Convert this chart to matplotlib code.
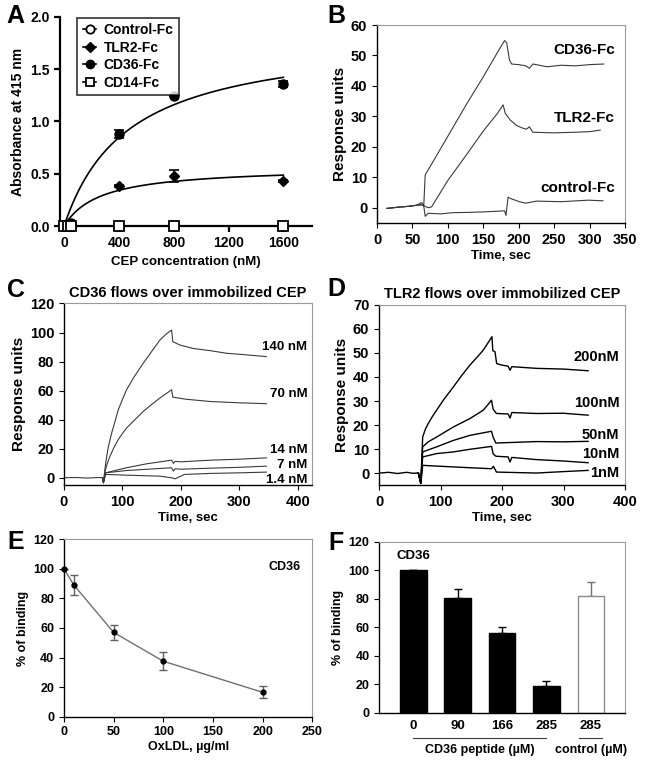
import matplotlib
matplotlib.use("Agg")
import matplotlib.pyplot as plt
import matplotlib.transforms as mtransforms
from matplotlib.lines import Line2D
import numpy as np

plt.rcParams["font.family"] = ["Liberation Sans", "DejaVu Sans"]
plt.rcParams["font.weight"] = "bold"
plt.rcParams["axes.labelweight"] = "bold"
plt.rcParams["axes.titleweight"] = "bold"
plt.rcParams["xtick.major.size"] = 3.5
plt.rcParams["ytick.major.size"] = 3.5

# ── Panel A: ELISA binding ────────────────────────────────────────────────────
conc_nM   = [0, 25, 50, 400, 800, 1600]
ctrl_abs  = [0.0, 0.0, 0.0, 0.0, 0.0, 0.0]
tlr2_abs  = [0.0, 0.01, 0.02, 0.38, 0.48, 0.43]
tlr2_err  = [0.0, 0.0, 0.0, 0.01, 0.06, 0.01]
cd36_abs  = [0.0, 0.02, 0.03, 0.88, 1.24, 1.36]
cd36_err  = [0.0, 0.0, 0.0, 0.04, 0.0, 0.03]
cd14_abs  = [0.0, 0.0, 0.0, 0.0, 0.0, 0.0]

# ── Panel B: SPR, Fc proteins ────────────────────────────────────────────────
b_cd36_t  = [14, 30, 45, 55, 63, 66, 68, 85, 100, 125, 150, 170, 180, 183, 187, 190, 200, 210, 215, 220, 240, 260, 280, 300, 320]
b_cd36_ru = [-0.2, 0.2, 0.5, 0.8, 1.7, 0.7, 10.8, 17.5, 23.5, 33.5, 43.0, 51.0, 54.9, 54.2, 48.5, 47.2, 47.0, 46.6, 45.8, 47.2, 46.3, 46.8, 46.6, 47.0, 47.2]
b_tlr2_t  = [14, 30, 45, 55, 63, 68, 72, 77, 100, 125, 150, 170, 178, 181, 188, 197, 205, 211, 215, 220, 248, 280, 300, 315]
b_tlr2_ru = [-0.2, 0.2, 0.5, 0.8, 1.0, 0.5, 0.0, 0.3, 9.0, 17.0, 25.2, 31.0, 33.8, 31.0, 28.8, 27.0, 26.2, 25.8, 26.6, 24.8, 24.6, 24.8, 25.0, 25.5]
b_ctrl_t  = [14, 30, 45, 55, 63, 66, 68, 72, 90, 107, 131, 155, 180, 182, 185, 189, 201, 210, 225, 260, 298, 319]
b_ctrl_ru = [-0.2, 0.2, 0.5, 0.8, 1.0, 0.5, -2.8, -1.8, -2.0, -1.6, -1.5, -1.3, -1.0, -2.5, 3.5, 3.0, 2.0, 1.5, 2.2, 2.0, 2.5, 2.3]
b_labels  = ["CD36-Fc", "TLR2-Fc", "control-Fc"]
b_label_y = [51.8, 29.4, 6.5]

# ── Panel C: CD36 over immobilized CEP ───────────────────────────────────────
c_t_base  = [0, 20, 40, 60, 66]
c_ru_base = [0, 0.2, -0.2, 0.2, 0.0]
c_140_t   = [66, 67.5, 70, 72, 74, 76, 78.6, 82, 86, 92.8, 100, 107, 120, 135.6, 150, 164, 175, 184, 186, 198, 221, 250, 278, 312, 346]
c_140_ru  = [0, -3.4, 6.0, 12.0, 17.0, 21.5, 26.0, 31.5, 37.0, 46.8, 54.0, 60.6, 69.5, 78.9, 87.0, 94.8, 99.0, 101.7, 93.7, 91.4, 89.0, 87.5, 85.7, 84.6, 83.4]
c_70_t    = [66, 67.5, 70, 72, 75, 78.6, 85, 92.8, 100, 107, 120, 135.6, 150, 164, 175, 184, 186, 208, 250, 300, 346]
c_70_ru   = [0, -3.4, 4.0, 7.0, 11.0, 14.8, 20.5, 26.3, 30.5, 34.3, 39.5, 45.7, 50.5, 54.9, 58.0, 60.6, 55.5, 54.1, 52.5, 51.6, 51.0]
c_14_t    = [66, 67.5, 71, 107, 141, 184, 187, 190, 200, 250, 300, 346]
c_14_ru   = [0, -3.4, 3.4, 6.9, 9.6, 12.1, 9.9, 11.3, 11.0, 12.1, 12.8, 13.7]
c_7_t     = [66, 67.5, 71, 107, 184, 187, 190, 200, 250, 300, 346]
c_7_ru    = [0, -3.4, 3.4, 5.0, 6.9, 4.6, 6.2, 5.9, 6.6, 7.2, 8.0]
c_1_t     = [66, 67.5, 71, 107, 164, 184, 190, 206, 250, 300, 346]
c_1_ru    = [0, -3.4, 2.3, 1.8, 1.1, 0.0, -0.7, 2.3, 3.0, 3.4, 3.9]
c_labels  = ["140 nM", "70 nM", "14 nM", "7 nM", "1.4 nM"]
c_label_y = [90, 57.6, 19, 8.5, -1.8]

# ── Panel D: TLR2 over immobilized CEP ───────────────────────────────────────
d_t_base  = [2, 15, 30, 45, 55, 64]
d_ru_base = [0, 0.3, -0.2, 0.3, -0.1, 0.0]
d_200_t   = [64, 68, 71, 75, 80, 86, 93.7, 105, 121, 135, 148, 160, 169.6, 183.7, 185, 188.6, 191.3, 199, 210, 213, 216, 256, 300, 340]
d_200_ru  = [0, -4.3, 15.0, 18.0, 20.6, 23.2, 26.2, 30.5, 35.9, 40.8, 45.0, 48.4, 51.2, 56.8, 51.0, 50.5, 45.6, 45.0, 44.5, 42.8, 44.3, 43.6, 43.3, 42.6]
d_100_t   = [64, 68, 71, 80, 93.7, 121, 148, 169.6, 183, 185.5, 191, 210, 213, 216, 256, 300, 340]
d_100_ru  = [0, -4.3, 10.9, 13.0, 15.0, 19.2, 22.7, 26.2, 30.3, 26.6, 24.8, 24.6, 22.9, 25.2, 24.8, 24.9, 24.1]
d_50_t    = [64, 68, 71, 93.7, 121, 148, 183, 185.5, 190, 256, 300, 340]
d_50_ru   = [0, -4.3, 8.8, 10.9, 13.6, 15.7, 17.4, 15.0, 12.5, 13.1, 13.0, 13.2]
d_10_t    = [64, 68, 71, 93.7, 121, 148, 183, 185.5, 190, 210, 213, 216, 256, 300, 340]
d_10_ru   = [0, -4.3, 6.7, 8.1, 8.8, 9.9, 11.1, 8.0, 7.0, 6.7, 4.6, 6.5, 5.6, 5.0, 4.3]
d_1_t     = [64, 68, 71, 93.7, 148, 183, 186, 191, 256, 300, 340]
d_1_ru    = [0, -4.3, 3.2, 2.9, 2.2, 1.8, 2.8, 0.4, 0.0, 0.6, 1.1]
d_labels  = ["200nM", "100nM", "50nM", "10nM", "1nM"]
d_label_y = [48.4, 29, 15.7, 7.8, 0]

# ── Panel E: OxLDL competition ───────────────────────────────────────────────
oxldl     = [0, 10, 50, 100, 200]
e_binding = [100, 89, 57, 37.5, 16.5]
e_err     = [0, 7, 5, 6, 4]

# ── Panel F: peptide competition ─────────────────────────────────────────────
f_ticks   = ["0", "90", "166", "285", "285"]
f_binding = [100, 80.5, 56, 19, 82]
f_err     = [0, 6, 4, 3, 10]

DARK = "#3a3a3a"
GRID = "#9a9a9a"

fig = plt.figure(figsize=(6.45, 7.63), dpi=100)
fig.patch.set_facecolor("white")

def box_axes(ax):
    for s in ["left", "bottom"]:
        ax.spines[s].set_color("black")
        ax.spines[s].set_linewidth(1.0)
    for s in ["top", "right"]:
        ax.spines[s].set_color(GRID)
        ax.spines[s].set_linewidth(0.8)

# ── A ───────────────────────────────────────────────────────────────────────
axA = fig.add_axes([0.093, 0.7038, 0.391, 0.274])
axA.spines[["top", "right"]].set_visible(False)
axA.spines[["left", "bottom"]].set_linewidth(1.6)
axA.tick_params(width=1.6, length=4, labelsize=10)

def fit_hyperbola(x, y):
    # one-site binding, least squares over Kd grid
    x = np.asarray(x, float); y = np.asarray(y, float)
    best = None
    for kd in np.linspace(10, 2000, 400):
        f = x / (kd + x)
        bmax = (f * y).sum() / (f * f).sum()
        sse = ((y - bmax * f) ** 2).sum()
        if best is None or sse < best[0]:
            best = (sse, kd, bmax)
    return best[1], best[2]

xs = np.linspace(0, 1600, 300)
for y in [cd36_abs, tlr2_abs]:
    kd, bmax = fit_hyperbola(conc_nM, y)
    axA.plot(xs, bmax * xs / (kd + xs), color="black", lw=1.2, zorder=2)

ms = 6.5
axA.errorbar(conc_nM, ctrl_abs, fmt="o", mfc="white", mec="black", mew=1.3, ms=ms,
             color="black", clip_on=False, zorder=3)
axA.errorbar(conc_nM, tlr2_abs, yerr=tlr2_err, fmt="D", mfc="black", mec="black", ms=5.5,
             color="black", ecolor="black", elinewidth=1.2, capsize=3.5, capthick=1.2,
             clip_on=False, zorder=3)
axA.errorbar(conc_nM, cd36_abs, yerr=cd36_err, fmt="o", mfc="black", mec="black", ms=ms,
             color="black", ecolor="black", elinewidth=1.2, capsize=3.5, capthick=1.2,
             clip_on=False, zorder=3)
axA.errorbar(conc_nM, cd14_abs, fmt="s", mfc="white", mec="black", mew=1.3, ms=ms,
             color="black", clip_on=False, zorder=4)

axA.set_xlim(-30, 1810)
axA.set_ylim(0, 2.0)
axA.set_xticks([0, 400, 800, 1200, 1600])
axA.set_yticks([0.0, 0.5, 1.0, 1.5, 2.0])
axA.set_yticklabels(["0.0", "0.5", "1.0", "1.5", "2.0"])
axA.set_xlabel("CEP concentration (nM)", fontsize=9.5, labelpad=4)
axA.set_ylabel("Absorbance at 415 nm", fontsize=10, labelpad=4)
handles = [
    Line2D([], [], color="black", lw=1.2, marker="o", mfc="white", mec="black", mew=1.3, ms=6),
    Line2D([], [], color="black", lw=1.2, marker="D", mfc="black", mec="black", ms=5),
    Line2D([], [], color="black", lw=1.2, marker="o", mfc="black", mec="black", ms=6),
    Line2D([], [], color="black", lw=1.2, marker="s", mfc="white", mec="black", mew=1.3, ms=6),
]
labels = ["Control-Fc", "TLR2-Fc", "CD36-Fc", "CD14-Fc"]
leg = axA.legend(handles, labels, loc="upper left", bbox_to_anchor=(0.04, 1.03),
                 fontsize=10, frameon=True, fancybox=False, edgecolor="black",
                 handlelength=1.0, handletextpad=0.5, borderpad=0.4, labelspacing=0.25)
leg.get_frame().set_linewidth(1.2)

# ── B ───────────────────────────────────────────────────────────────────────
axB = fig.add_axes([0.5845, 0.7077, 0.3845, 0.2595])
box_axes(axB)
axB.plot(b_cd36_t, b_cd36_ru, color=DARK, lw=0.8)
axB.plot(b_tlr2_t, b_tlr2_ru, color=DARK, lw=0.8)
axB.plot(b_ctrl_t, b_ctrl_ru, color=DARK, lw=0.8)
axB.set_xlim(0, 350)
axB.set_ylim(-5, 60)
axB.set_xticks(range(0, 351, 50))
axB.set_yticks(range(0, 61, 10))
axB.tick_params(labelsize=10.5)
axB.set_xlabel("Time, sec", fontsize=9.5, labelpad=2)
axB.set_ylabel("Response units", fontsize=11, labelpad=3)
for txt, yv in zip(b_labels, b_label_y):
    axB.text(336, yv, txt, ha="right", va="center", fontsize=11)

# ── C ───────────────────────────────────────────────────────────────────────
axC = fig.add_axes([0.0992, 0.3643, 0.3845, 0.238])
box_axes(axC)
axC.plot(c_t_base, c_ru_base, color=DARK, lw=0.8)
for t, ru in [(c_140_t, c_140_ru), (c_70_t, c_70_ru), (c_14_t, c_14_ru),
              (c_7_t, c_7_ru), (c_1_t, c_1_ru)]:
    axC.plot(t, ru, color=DARK, lw=0.8)
axC.set_xlim(0, 424)
axC.set_ylim(-5, 120)
axC.set_xticks(range(0, 401, 100))
axC.set_yticks(range(0, 121, 20))
axC.tick_params(labelsize=10.5)
axC.set_xlabel("Time, sec", fontsize=9.5, labelpad=2)
axC.set_ylabel("Response units", fontsize=11, labelpad=3)
for txt, yv in zip(c_labels, c_label_y):
    axC.text(416, yv, txt, ha="right", va="center", fontsize=9.5)
axC.set_title("CD36 flows over immobilized CEP", fontsize=10.5, pad=5)

# ── D ───────────────────────────────────────────────────────────────────────
axD = fig.add_axes([0.5876, 0.3643, 0.3814, 0.236])
box_axes(axD)
axD.plot(d_t_base, d_ru_base, color="black", lw=1.0)
for t, ru in [(d_200_t, d_200_ru), (d_100_t, d_100_ru), (d_50_t, d_50_ru),
              (d_10_t, d_10_ru), (d_1_t, d_1_ru)]:
    axD.plot(t, ru, color="black", lw=1.0)
axD.set_xlim(0, 400)
axD.set_ylim(-5, 70)
axD.set_xticks(range(0, 401, 100))
axD.set_yticks(range(0, 71, 10))
axD.tick_params(labelsize=10.5)
axD.set_xlabel("Time, sec", fontsize=9.5, labelpad=2)
axD.set_ylabel("Response units", fontsize=11, labelpad=3)
for txt, yv in zip(d_labels, d_label_y):
    axD.text(391, yv, txt, ha="right", va="center", fontsize=10.5)
axD.set_title("TLR2 flows over immobilized CEP", fontsize=10.5, pad=5)

# ── E ───────────────────────────────────────────────────────────────────────
axE = fig.add_axes([0.0992, 0.0607, 0.385, 0.2325])
box_axes(axE)
axE.errorbar(oxldl, e_binding, yerr=e_err, fmt="-", color="#707070", lw=1.0,
             ecolor="#606060", elinewidth=1.0, capsize=3, capthick=1.0, zorder=2)
axE.plot(oxldl, e_binding, "o", color="black", ms=3.5, zorder=3, clip_on=False)
axE.set_xlim(0, 250)
axE.set_ylim(0, 120)
axE.set_xticks(range(0, 251, 50))
axE.set_yticks(range(0, 121, 20))
axE.tick_params(labelsize=9)
axE.set_xlabel("OxLDL, µg/ml", fontsize=9, labelpad=2)
axE.set_ylabel("% of binding", fontsize=9, labelpad=3)
axE.text(222, 101, "CD36", ha="center", va="center", fontsize=9)

# ── F ───────────────────────────────────────────────────────────────────────
axF = fig.add_axes([0.588, 0.066, 0.381, 0.224])
box_axes(axF)
xpos = np.arange(len(f_binding))
colors = ["black", "black", "black", "black", "white"]
edges = ["black", "black", "black", "black", "#8a8a8a"]
axF.bar(xpos, f_binding, width=0.6, color=colors, edgecolor=edges, linewidth=1.0, zorder=2)
axF.errorbar(xpos[:4], f_binding[:4], yerr=[[0] * 4, f_err[:4]], fmt="none",
             ecolor="black", elinewidth=1.0, capsize=3, capthick=1.0, zorder=1)
axF.errorbar(xpos[4:], f_binding[4:], yerr=[[0], f_err[4:]], fmt="none",
             ecolor="#707070", elinewidth=1.0, capsize=3, capthick=1.0, zorder=1)
axF.set_xlim(-0.77, 4.77)
axF.set_ylim(0, 120)
axF.set_xticks(xpos)
axF.set_xticklabels(f_ticks)
axF.tick_params(axis="x", length=0, labelsize=9.5, pad=5)
axF.tick_params(axis="y", labelsize=9)
axF.set_ylabel("% of binding", fontsize=9, labelpad=3)
axF.text(0, 110, "CD36", ha="center", va="center", fontsize=9.5)
trF = mtransforms.blended_transform_factory(axF.transData, axF.transAxes)
axF.plot([0, 3], [-0.15, -0.15], color=DARK, lw=0.8, transform=trF, clip_on=False)
axF.plot([3.74, 4.26], [-0.15, -0.15], color=DARK, lw=0.8, transform=trF, clip_on=False)
axF.text(1.5, -0.22, "CD36 peptide (µM)", transform=trF, ha="center", va="center", fontsize=9)
axF.text(4.0, -0.22, "control (µM)", transform=trF, ha="center", va="center", fontsize=9)

# ── panel letters ───────────────────────────────────────────────────────────
for lab, (px, py) in {"A": (15, 16), "B": (336, 16), "C": (16, 290),
                      "D": (336, 289), "E": (16, 542), "F": (336, 543)}.items():
    fig.text(px / 645, 1 - py / 763, lab, ha="center", va="center",
             fontsize=18, fontweight="bold")

fig.savefig("out.png", dpi=100, facecolor="white")
plt.close(fig)
